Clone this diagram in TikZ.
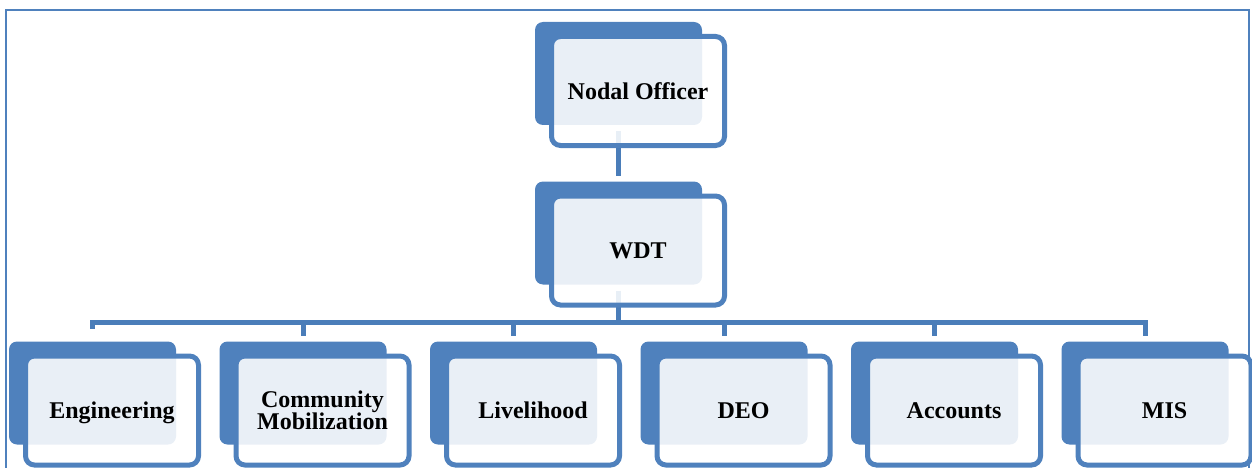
\documentclass[tikz,border=0pt]{standalone}
\usepackage{fontspec}
\setmainfont{Liberation Serif}
\definecolor{boxblue}{HTML}{4F81BD}
\definecolor{linkblue}{HTML}{4A7DB9}
\newcommand{\backBox}[3]{
  \node[backbox] (#1) at (#2,#3) {};
}
\newcommand{\frontBox}[2]{
  \node[frontbox] (#1Front) at ([shift={(19.5,17.5)}]#1.center) {};
  \node[unittext] (#1Text) at (#1Front) {#2};
}

\begin{document}
\begin{tikzpicture}[x=1pt, y=-1pt,
  backbox/.style={fill=boxblue, rounded corners=8pt, minimum width=167pt,
    minimum height=103pt, inner sep=0pt, outer sep=0pt},
  frontbox/.style={draw=boxblue, line width=5pt, fill=white, fill opacity=0.88,
    rounded corners=9pt, minimum width=173pt, minimum height=109pt,
    inner sep=0pt, outer sep=0pt},
  unittext/.style={font=\fontsize{24}{22}\selectfont\bfseries, align=center,
    inner sep=0pt, text depth=0pt},
  link/.style={draw=linkblue, line width=5pt}]
  \useasboundingbox (0,0) rectangle (1252,468);
  % frame
  \draw[boxblue, line width=1.6pt] (6,475) -- (6,10) -- (1249,10) -- (1249,475);

  % Nodes
  \backBox{nodal}{618.5}{73.5}
  \backBox{wdt}{618.5}{233}
  \foreach \name/\i in {eng/0, com/1, liv/2, deo/3, acc/4, mis/5}{
    \backBox{\name}{92.5+210.5*\i}{393}
  }
  \coordinate (bus) at (0,322);

  % connectors
  \draw[link, shorten <=6pt, shorten >=6pt] (nodal.south) -- (wdt.north);
  \draw[link, shorten <=6pt] (wdt.south) -- (wdt.south |- bus);
  \draw[link, shorten >=6pt] (eng.north) ++(0,-13) |- (mis.north |- bus) -- (mis.north);
  \foreach \name in {com, liv, deo, acc}{
    \draw[link, shorten >=6pt] (\name.north |- bus) -- (\name.north);
  }

  \frontBox{nodal}{Nodal Officer}
  \frontBox{wdt}{WDT}
  \foreach \name/\txt in {eng/Engineering, com/{Community\\Mobilization},
      liv/Livelihood, deo/DEO, acc/Accounts, mis/MIS}{
    \frontBox{\name}{\txt}
  }
\end{tikzpicture}
\end{document}
